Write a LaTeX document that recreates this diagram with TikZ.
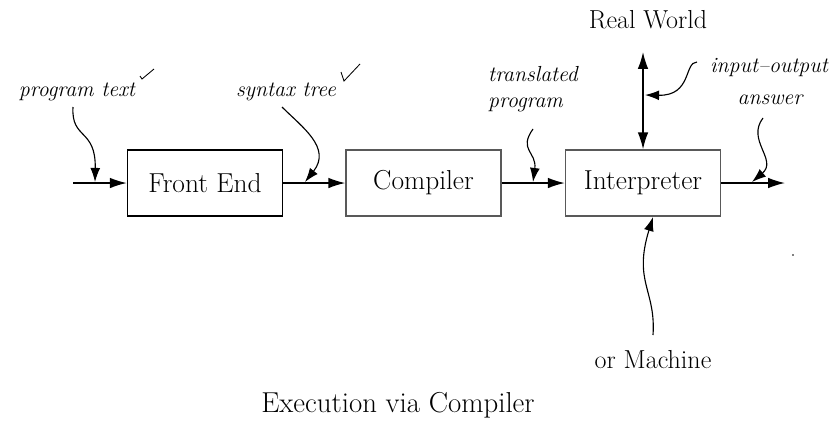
\documentclass[tikz,border=0pt]{standalone}
\usepackage{xcolor}
\usepackage{tikz}
\usetikzlibrary{arrows.meta,positioning,calc}

\tikzset{
	stage/.style={draw,line width=1pt,minimum width=3.875cm,minimum height=1.65cm,inner sep=0pt,font=\fontsize{19.5}{22}\selectfont},
	flow/.style={line width=1pt,-{Latex[length=12pt,width=7.5pt]}},
	note/.style={font=\fontsize{15.5}{18}\selectfont\itshape,inner sep=1pt},
	squig/.style={line width=0.8pt,-{Latex[length=10pt,width=7pt]}},
	big/.style={font=\fontsize{18.5}{21}\selectfont,inner sep=1pt}
}

\begin{document}
\begin{tikzpicture}[x=0.025cm,y=-0.025cm]
	\useasboundingbox (0,0) rectangle (840,422);
	% boxes
	\node[stage] (fe) at (205,183) {Front End};
	\node[stage,draw=black!65] (comp) at (423.5,183) {Compiler};
	\node[stage,draw=black!65] (interp) at (643,183) {Interpreter};
	\coordinate (in) at (73,183);
	\coordinate (out) at (785,183);
	\draw[flow] (in) -- (fe);
	\draw[flow] (fe) -- (comp);
	\draw[flow] (comp) -- (interp);
	\draw[flow] (interp) -- (out);
	% real world
	\node[big] (rw) at (648,20) {Real World};
	\node[big] (mach) at (653,360) {or Machine};
	\coordinate (rwtip) at (643,52);
	\draw[line width=1pt,{Latex[length=12pt,width=7.5pt]}-{Latex[length=12pt,width=7.5pt]}] (rwtip) -- (interp.north);
	% labels
	\node[note] (ptext) at (77,92) {program text};
	\node[note] (stree) at (286,92) {syntax tree};
	\node[note,align=left] (tprog) at (533,89) {translated\\program};
	\node[note] (io) at (769,68) {input--output};
	\node[note] (ans) at (770,100) {answer};
	\node[font=\fontsize{20.5}{23}\selectfont] (cap) at (398,405) {Execution via Compiler};
	% squiggly pointers
	\coordinate (p1) at (95,182);
	\coordinate (p2) at (305,182);
	\coordinate (p3) at (533,182);
	\coordinate (p4) at (645,95);
	\coordinate (p5) at (752,182);
	\coordinate (p6) at (653,217);
	\draw[squig] (73,107) .. controls (71,140) and (96,128) .. (p1);
	\draw[squig] (282,107) .. controls (302,127) and (332,148) .. (p2);
	\draw[squig] (533,129) .. controls (518,150) and (537,152) .. (p3);
	\draw[squig] (697,62) .. controls (684,62) and (692,96) .. (p4);
	\draw[squig] (763,118) .. controls (746,140) and (778,160) .. (p5);
	\draw[squig] (653,335) .. controls (656,290) and (633,282) .. (p6);
	% marks
	\draw[line width=0.6pt] (140,76) -- (142,79) -- (154,69);
	\draw[line width=0.6pt] (341,72) -- (344,81) -- (360,64);
	\fill (793,255) circle (0.8);
\end{tikzpicture}
\end{document}
